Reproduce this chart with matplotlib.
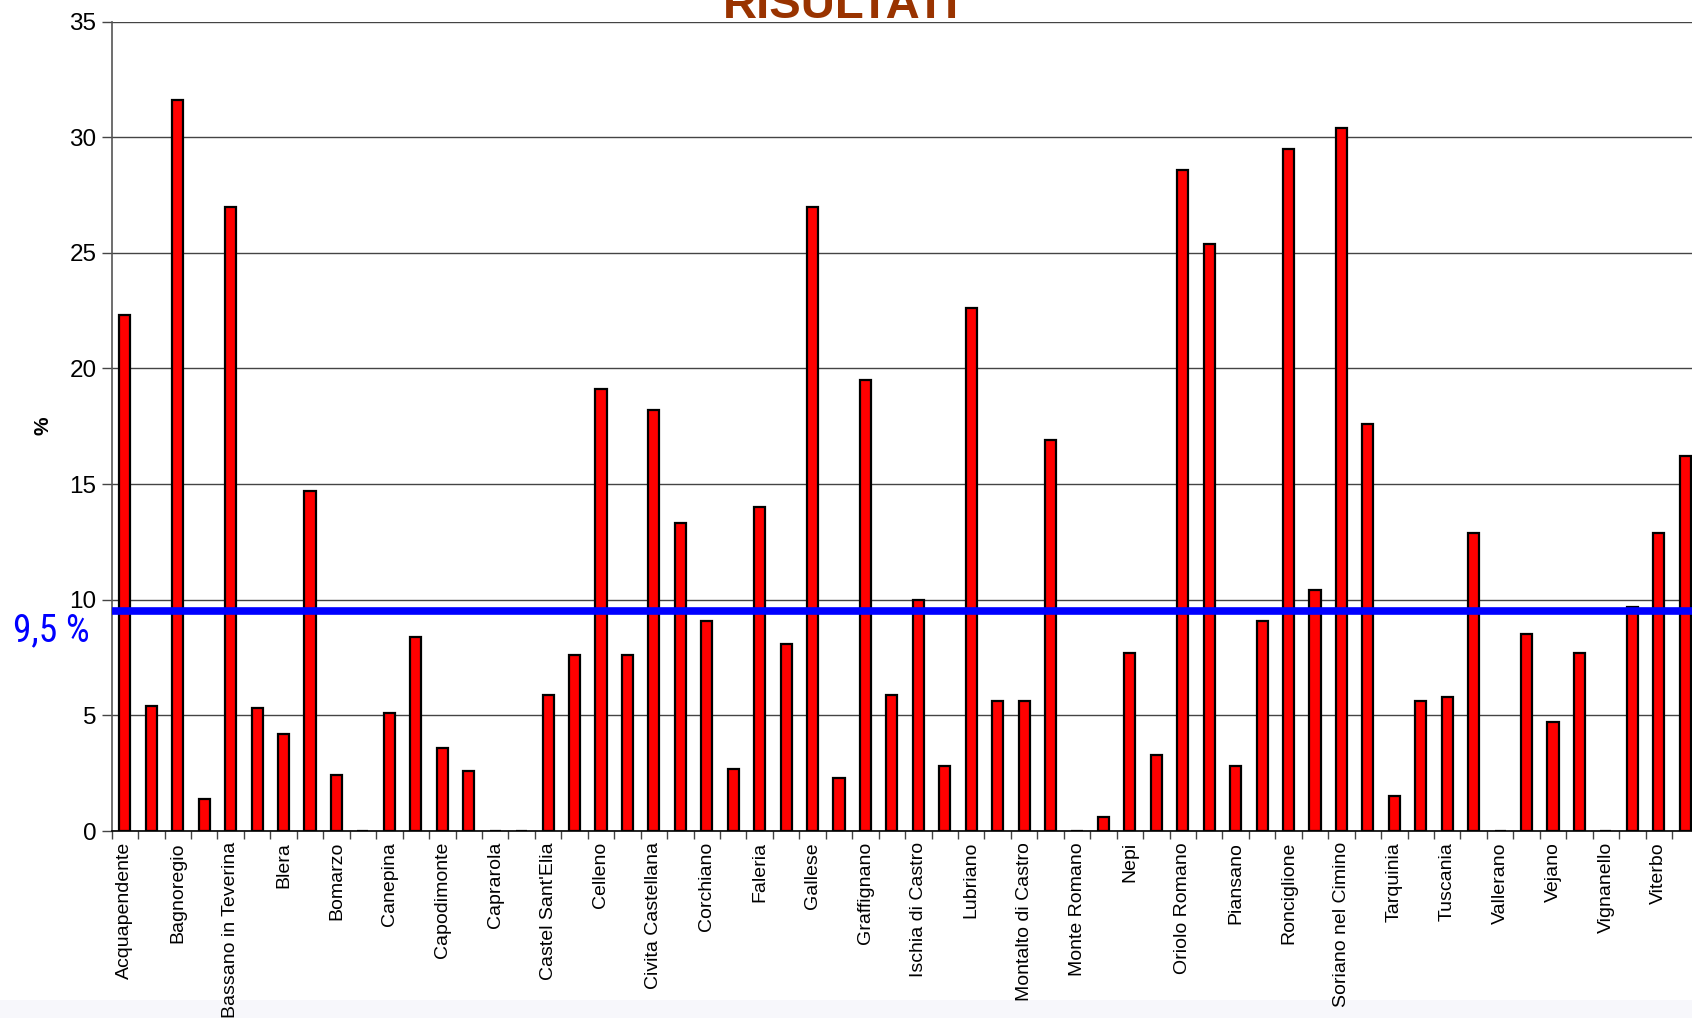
import matplotlib
matplotlib.use("Agg")
import matplotlib.pyplot as plt
from matplotlib import font_manager
import numpy as np
from matplotlib.patches import Rectangle

plt.rcParams['font.family'] = ['Liberation Sans', 'DejaVu Sans']

# Municipalities of the province of Viterbo (alphabetical)
comuni = [
    "Acquapendente", "Arlena di Castro", "Bagnoregio", "Barbarano Romano",
    "Bassano in Teverina", "Bassano Romano", "Blera", "Bolsena", "Bomarzo",
    "Calcata", "Canepina", "Canino", "Capodimonte", "Capranica", "Caprarola",
    "Carbognano", "Castel Sant'Elia", "Castiglione in Teverina", "Celleno",
    "Cellere", "Civita Castellana", "Civitella d'Agliano", "Corchiano",
    "Fabrica di Roma", "Faleria", "Farnese", "Gallese", "Gradoli",
    "Graffignano", "Grotte di Castro", "Ischia di Castro", "Latera",
    "Lubriano", "Marta", "Montalto di Castro", "Montefiascone",
    "Monte Romano", "Monterosi", "Nepi", "Onano", "Oriolo Romano", "Orte",
    "Piansano", "Proceno", "Ronciglione", "San Lorenzo Nuovo",
    "Soriano nel Cimino", "Sutri", "Tarquinia", "Tessennano", "Tuscania",
    "Valentano", "Vallerano", "Vasanello", "Vejano", "Vetralla",
    "Vignanello", "Villa San Giovanni in Tuscia", "Viterbo", "Vitorchiano",
]

# Percentage per municipality
percentuali = [
    22.3, 5.4, 31.6, 1.4, 27.0, 5.3, 4.2, 14.7, 2.4, 0.0,
    5.1, 8.4, 3.6, 2.6, 0.0, 0.0, 5.9, 7.6, 19.1, 7.6,
    18.2, 13.3, 9.1, 2.7, 14.0, 8.1, 27.0, 2.3, 19.5, 5.9,
    10.0, 2.8, 22.6, 5.6, 5.6, 16.9, 0.0, 0.6, 7.7, 3.3,
    28.6, 25.4, 2.8, 9.1, 29.5, 10.4, 30.4, 17.6, 1.5, 5.6,
    5.8, 12.9, 0.0, 8.5, 4.7, 7.7, 0.0, 9.7, 12.9, 16.2,
]

# Reference level
soglia = 9.5
soglia_label = "9,5 %"

titolo = "RISULTATI"
y_label = "%"
y_ticks = [0, 5, 10, 15, 20, 25, 30, 35]


def narrow_family():
    """Pick an installed condensed sans face, if there is one."""
    names = sorted({f.name for f in font_manager.fontManager.ttflist})
    for key in ("Liberation Sans Narrow", "Arial Narrow", "DejaVu Sans Condensed",
                "Roboto Condensed", "Open Sans Condensed"):
        if key in names:
            return key, None
    for f in font_manager.fontManager.ttflist:
        if "condensed" in str(f.stretch).lower() and "Sans" in f.name:
            return f.name, f.stretch
    return None, None


W, H = 1692, 1018
fig = plt.figure(figsize=(W / 100, H / 100), dpi=100)
fig.patch.set_facecolor("white")

# faint band along the bottom edge, behind everything
fig.patches.append(Rectangle((0, 0), 1, 18 / H, transform=fig.transFigure,
                             facecolor="#f7f7fb", edgecolor="none", zorder=-5))

left = 111.7 / W
bottom = 1 - 831 / H
top = 1 - 21.6 / H
right = 1698.5 / W
ax = fig.add_axes([left, bottom, right - left, top - bottom])
ax.patch.set_alpha(0)

x = np.arange(len(comuni))
ax.bar(x, percentuali, width=0.42, color="#ff0000", edgecolor="black",
       linewidth=1.6, zorder=3)

ax.axhline(soglia, color="#0000ff", linewidth=5.5, zorder=4)

ax.set_xlim(-0.5, len(comuni) - 0.5)
ax.set_ylim(0, 35)

ax.set_yticks(y_ticks)
ax.set_yticklabels([str(v) for v in y_ticks], fontsize=17.5)
ax.yaxis.grid(True, color="#444444", linewidth=1.0, zorder=1)
ax.set_axisbelow(True)

# labels on every other category, tick marks on category boundaries
ax.set_xticks(x[::2])
ax.set_xticklabels(comuni[::2], rotation=90, fontsize=14, va="top")
ax.set_xticks(np.arange(-0.5, len(comuni), 1.0), minor=True)
ax.tick_params(axis="x", which="major", length=0, pad=8)
ax.tick_params(axis="x", which="minor", length=6, width=1.0, color="#444444")
ax.tick_params(axis="y", which="major", length=7, width=1.0, color="#444444",
               pad=4)

for s in ("top", "right"):
    ax.spines[s].set_visible(False)
ax.spines["left"].set_color("#555555")
ax.spines["left"].set_linewidth(1.2)
ax.spines["bottom"].set_color("black")
ax.spines["bottom"].set_linewidth(1.2)

fig.text(43 / W, 1 - 426 / H, y_label, rotation=90, fontsize=15,
         fontweight="bold", ha="center", va="center")

fam, stretch = narrow_family()
if fam is not None:
    kw = dict(family=[fam, "Liberation Sans", "DejaVu Sans"], fontsize=27)
    if stretch is not None:
        kw["fontstretch"] = stretch
else:
    kw = dict(family=["Liberation Sans", "DejaVu Sans"], fontsize=23)
fig.text(51 / W, 1 - 631 / H, soglia_label, color="#0000ff",
         ha="center", va="center", **kw)

fig.text(841 / W, 1 - 18 / H, titolo, color="#993300", fontsize=34,
         fontweight="bold", ha="center", va="baseline")

fig.savefig("out.png", dpi=100)
